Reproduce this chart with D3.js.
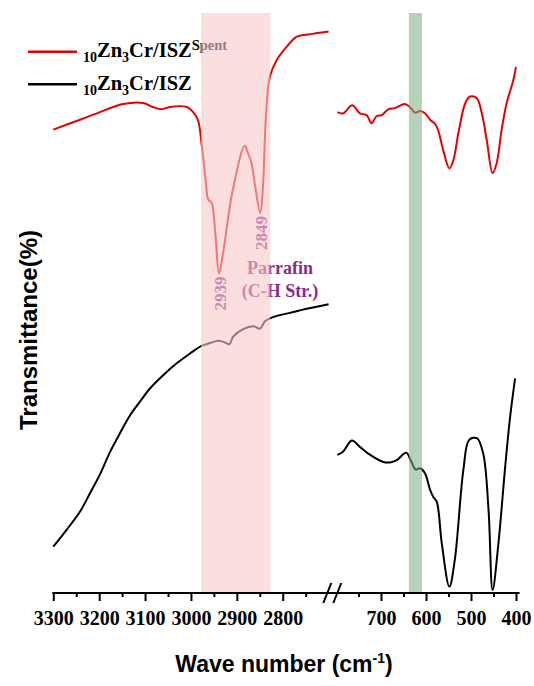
<!DOCTYPE html>
<html>
<head>
<meta charset="utf-8">
<script src="https://cdn.jsdelivr.net/npm/d3@7"></script>
<style>
  html, body { margin: 0; padding: 0; background: #fff; }
  svg { display: block; }
</style>
</head>
<body>
<svg id="chart" width="534" height="686"></svg>
<script>
// FTIR spectra: spent vs. fresh catalyst, broken wavenumber axis

// High-wavenumber segment (C-H stretching region)
const wnSpentHigh = [3300, 3242, 3205, 3148, 3104, 3083, 3064, 3046, 3009, 2996, 2985, 2976, 2968, 2962, 2955, 2947, 2939, 2930, 2910, 2883, 2876, 2868, 2860, 2849, 2843, 2837, 2828, 2813, 2791, 2770, 2734, 2700];
const tSpentHigh  = [79.9, 81.6, 82.7, 84.3, 84.5, 83.8, 83.4, 83.8, 83.8, 83.0, 81.6, 76.9, 71.2, 67.8, 67.3, 62.1, 55.1, 58.6, 69.0, 77.1, 75.9, 74.1, 70.1, 65.5, 70.1, 81.6, 89.0, 91.9, 94.2, 95.9, 96.4, 96.8];

const wnFreshHigh = [3300, 3271, 3242, 3220, 3198, 3177, 3155, 3133, 3111, 3089, 3060, 3031, 3002, 2977, 2958, 2940, 2926, 2916, 2908, 2886, 2864, 2849, 2839, 2820, 2784, 2748, 2700];
const tFreshHigh  = [8.0, 10.9, 14.0, 17.2, 20.5, 24.2, 27.5, 30.6, 33.0, 35.3, 37.6, 39.6, 41.3, 42.6, 43.1, 43.5, 43.2, 42.9, 44.2, 45.5, 46.0, 45.6, 46.8, 47.6, 48.3, 49.0, 49.8];

// Low-wavenumber segment (metal-oxygen region)
const wnSpentLow = [797, 784, 764, 747, 732, 721, 710, 698, 684, 669, 647, 636, 624, 613, 602, 591, 580, 573, 562, 548, 539, 528, 513, 502, 487, 476, 465, 452, 443, 432, 421, 406, 400];
const tSpentLow  = [82.9, 82.7, 84.1, 82.7, 82.4, 81.0, 82.2, 82.4, 83.4, 83.6, 84.3, 83.8, 82.8, 83.1, 82.7, 81.6, 80.9, 79.8, 76.4, 73.2, 74.7, 79.3, 84.4, 85.6, 85.3, 82.7, 78.1, 72.4, 74.1, 79.8, 84.4, 88.4, 90.7];

const wnFreshLow = [797, 784, 765, 747, 724, 695, 680, 665, 644, 634, 623, 613, 602, 591, 584, 576, 565, 548, 536, 517, 504, 487, 473, 461, 452, 439, 424, 413, 402];
const tFreshLow  = [23.8, 24.4, 26.3, 25.2, 23.8, 22.6, 22.5, 22.9, 24.2, 22.9, 21.3, 21.5, 20.6, 17.8, 16.6, 15.7, 8.6, 1.1, 5.7, 21.2, 26.4, 26.7, 24.1, 14.3, 0.5, 8.6, 21.8, 30.4, 37.0];

// Axis ticks
const majorTicksHigh = [3300, 3200, 3100, 3000, 2900, 2800];
const minorTicksHigh = [3250, 3150, 3050, 2950, 2850, 2750];
const majorTicksLow = [700, 600, 500, 400];
const minorTicksLow = [750, 650, 550, 450];

// Highlighted bands and peak labels
const paraffinBand = [2978, 2827];
const mOBand = [638, 609];
const peakLabels = [2939, 2849];

const svg = d3.select("#chart");
const serif = "'Liberation Serif', 'Times New Roman', serif";
const sans = "'Liberation Sans', Arial, sans-serif";

const xHigh = d3.scaleLinear().domain([3300, 2700]).range([53.3, 328.6]);
const xLow = d3.scaleLinear().domain([800, 400]).range([336, 516]);
const y = d3.scaleLinear().domain([0, 100]).range([593, 13]);

const lineHigh = d3.line().x(d => xHigh(d[0])).y(d => y(d[1])).curve(d3.curveCatmullRom.alpha(0.5));
const lineLow = d3.line().x(d => xLow(d[0])).y(d => y(d[1])).curve(d3.curveCatmullRom.alpha(0.5));

const zip = (a, b) => a.map((v, i) => [v, b[i]]);

const red = "#e60000";
const curves = svg.append("g").attr("fill", "none").attr("stroke-width", 2).attr("stroke-linejoin", "round");
curves.append("path").attr("d", lineHigh(zip(wnFreshHigh, tFreshHigh))).attr("stroke", "#000");
curves.append("path").attr("d", lineLow(zip(wnFreshLow, tFreshLow))).attr("stroke", "#000");
curves.append("path").attr("d", lineHigh(zip(wnSpentHigh, tSpentHigh))).attr("stroke", red);
curves.append("path").attr("d", lineLow(zip(wnSpentLow, tSpentLow))).attr("stroke", red);

// Peak annotations on the spent spectrum
const purple = "#8a2a8a";
const peakMin = wn => tSpentHigh[wnSpentHigh.indexOf(wn)];
peakLabels.forEach(wn => {
  svg.append("text")
    .attr("transform", `translate(${xHigh(wn) + 7},${y(peakMin(wn)) + 3}) rotate(-90)`)
    .attr("text-anchor", "end")
    .attr("font-family", serif).attr("font-weight", "bold").attr("font-size", 17)
    .attr("fill", purple)
    .text(wn);
});
const ann = svg.append("text")
  .attr("font-family", serif).attr("font-weight", "bold").attr("font-size", 18)
  .attr("fill", purple).attr("text-anchor", "middle");
ann.append("tspan").attr("x", xHigh(2806)).attr("y", 274).text("Parrafin");
ann.append("tspan").attr("x", xHigh(2806)).attr("y", 297).text("(C-H Str.)");

// Legend
const legend = svg.append("g");
[[red, 51.7, true], ["#000", 84.3, false]].forEach(([c, ly, spent]) => {
  legend.append("line").attr("x1", 28).attr("x2", 77).attr("y1", ly).attr("y2", ly)
    .attr("stroke", c).attr("stroke-width", 2.5);
  const t = legend.append("text").attr("x", 83).attr("y", ly + 5.5)
    .attr("font-family", serif).attr("font-weight", "bold").attr("font-size", 20.5).attr("fill", "#000");
  t.append("tspan").attr("font-size", 14).attr("dy", 5).text("10");
  t.append("tspan").attr("dy", -5).text("Zn");
  t.append("tspan").attr("font-size", 14).attr("dy", 5).text("3");
  t.append("tspan").attr("dy", -5).text("Cr/ISZ");
  if (spent) t.append("tspan").attr("font-size", 14.5).attr("dy", -7.5).text("Spent");
});

// Translucent highlight bands drawn over the spectra
svg.append("rect")
  .attr("x", xHigh(paraffinBand[0])).attr("width", xHigh(paraffinBand[1]) - xHigh(paraffinBand[0]))
  .attr("y", y(100)).attr("height", y(0) - y(100))
  .attr("fill", "rgb(248,200,200)").attr("fill-opacity", 0.6);
svg.append("rect")
  .attr("x", xLow(mOBand[0])).attr("width", xLow(mOBand[1]) - xLow(mOBand[0]))
  .attr("y", y(100)).attr("height", y(0) - y(100))
  .attr("fill", "rgb(120,175,125)").attr("fill-opacity", 0.55);

// Bottom axis with a break between the two segments
const axisY = y(0);
const axisG = svg.append("g").attr("transform", `translate(0,${axisY})`);
function drawAxis(scale, major, minor) {
  const gMaj = axisG.append("g").call(d3.axisBottom(scale).tickValues(major).tickSize(8).tickSizeOuter(0).tickPadding(10).tickFormat(d3.format("d")));
  gMaj.select(".domain").remove();
  gMaj.selectAll(".tick line").attr("stroke", "#000").attr("stroke-width", 2);
  gMaj.selectAll(".tick text")
    .attr("font-family", serif).attr("font-weight", "bold").attr("font-size", 20).attr("fill", "#000");
  const gMin = axisG.append("g").call(d3.axisBottom(scale).tickValues(minor).tickSize(4).tickSizeOuter(0).tickFormat(""));
  gMin.select(".domain").remove();
  gMin.selectAll(".tick line").attr("stroke", "#000").attr("stroke-width", 2);
}
drawAxis(xHigh, majorTicksHigh, minorTicksHigh);
drawAxis(xLow, majorTicksLow, minorTicksLow);
axisG.append("line").attr("x1", xHigh(3300) - 1).attr("x2", xLow(392)).attr("y1", 0).attr("y2", 0)
  .attr("stroke", "#000").attr("stroke-width", 2);

// Break marks
const bx = (xHigh(2700) + xLow(800)) / 2;
[-5, 5].forEach(off => {
  axisG.append("line")
    .attr("x1", bx + off - 4).attr("y1", 10).attr("x2", bx + off + 4).attr("y2", -10)
    .attr("stroke", "#000").attr("stroke-width", 2);
});

// Axis titles
svg.append("text")
  .attr("x", 284).attr("y", 672).attr("text-anchor", "middle")
  .attr("font-family", sans).attr("font-weight", "bold").attr("font-size", 23).attr("fill", "#000")
  .call(t => {
    t.append("tspan").text("Wave number (cm");
    t.append("tspan").attr("font-size", 14).attr("dy", -9).text("-1");
    t.append("tspan").attr("dy", 9).text(")");
  });
svg.append("text")
  .attr("transform", "translate(37,330) rotate(-90)")
  .attr("text-anchor", "middle")
  .attr("font-family", sans).attr("font-weight", "bold").attr("font-size", 24).attr("fill", "#000")
  .text("Transmittance(%)");
</script>
</body>
</html>
